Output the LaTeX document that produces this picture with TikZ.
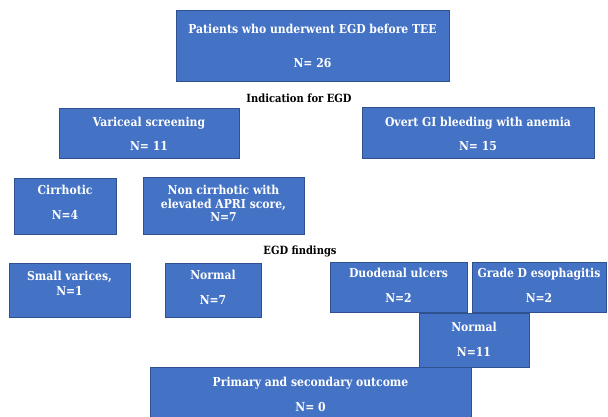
\documentclass[tikz,border=0pt]{standalone}
\usepackage{fontspec}
\setmainfont{DejaVu Serif}[FakeStretch=0.88]
\definecolor{boxfill}{HTML}{4472C4}
\definecolor{boxline}{HTML}{2F528F}
\tikzset{
  box/.style={draw=boxline, fill=boxfill, line width=0.9pt, inner sep=0pt, anchor=north west},
  txt/.style={text=white, font=\bfseries\fontsize{12.3}{13}\selectfont, align=center, inner sep=0pt},
  lbl/.style={text=black, font=\bfseries\fontsize{11.3}{13}\selectfont, inner sep=0pt}
}
\newcommand{\mybox}[5]{\node[box, minimum width=#4pt-#2pt, minimum height=#5pt-#3pt] (#1) at (#2,#3) {};}
\begin{document}
\begin{tikzpicture}[x=1pt,y=-1pt]
\useasboundingbox (0,0) rectangle (608,417);
% boxes
\mybox{top}{176}{10}{449}{81}
\mybox{vs}{59}{108}{239}{158}
\mybox{og}{362}{107}{594}{158}
\mybox{ci}{14}{178}{116}{234}
\mybox{nc}{143}{177}{304}{234}
\mybox{sv}{9}{263}{130}{317}
\mybox{n7}{165}{263}{261}{317}
\mybox{du}{330}{262}{467}{312}
\mybox{gd}{472}{262}{606}{312}
\mybox{n11}{419}{313}{529}{367}
\mybox{po}{150}{367}{471}{420}
% texts
\node[txt] (top-t) at (312.5,46) {Patients who underwent EGD before TEE\\[21pt]N= 26};
\node[lbl] (ind) at (299,98) {Indication for EGD};
\node[txt] (vs-t) at (149,134) {Variceal screening\\[11pt]N= 11};
\node[txt] (og-t) at (478,134) {Overt GI bleeding with anemia\\[11pt]N= 15};
\node[txt] (ci-t) at (65,202.5) {Cirrhotic\\[12pt]N=4};
\node[txt] (nc-t) at (223.5,203.5) {Non cirrhotic with\\[0.3pt]elevated APRI score,\\[0.3pt]N=7};
\node[lbl] (egd) at (300,251) {EGD findings};
\node[txt] (sv-t) at (69.5,283.5) {Small varices,\\[2pt]N=1};
\node[txt] (n7-t) at (213,287.5) {Normal\\[12pt]N=7};
\node[txt] (du-t) at (398.5,285.5) {Duodenal ulcers\\[12pt]N=2};
\node[txt] (gd-t) at (539,285.5) {Grade D esophagitis\\[12pt]N=2};
\node[txt] (n11-t) at (474,339.5) {Normal\\[12pt]N=11};
\node[txt] (po-t) at (310.5,394.5) {Primary and secondary outcome\\[12pt]N= 0};
\end{tikzpicture}
\end{document}
